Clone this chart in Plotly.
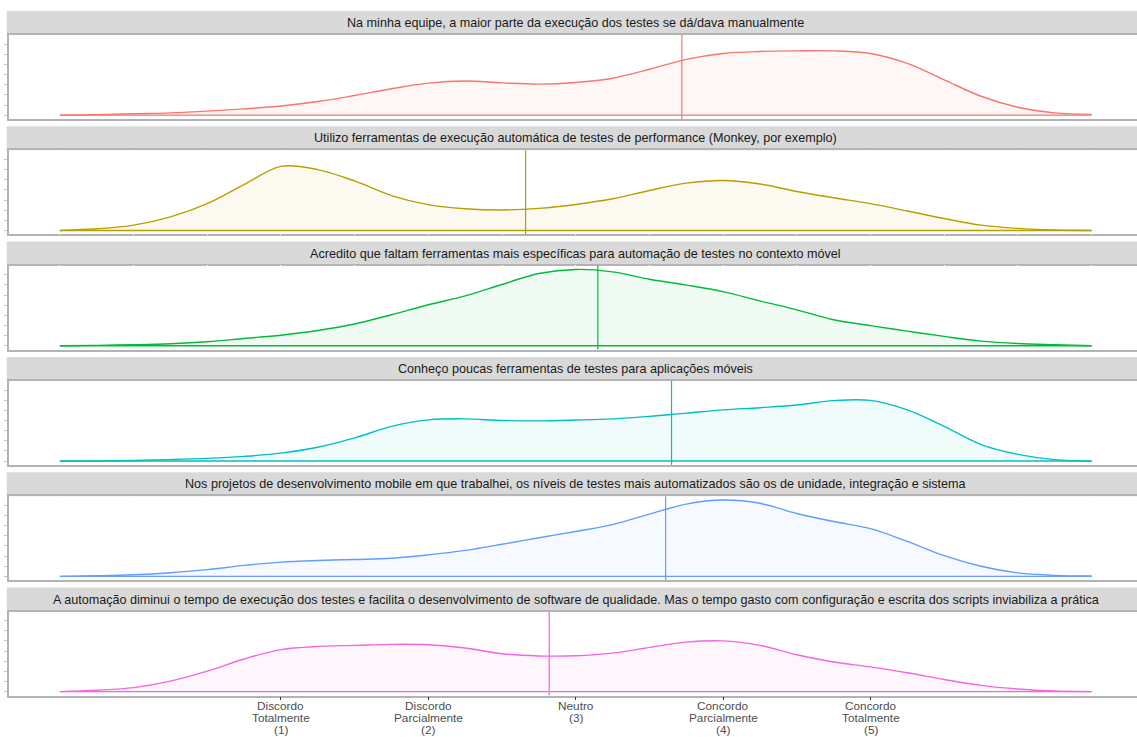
import plotly.graph_objects as go

# Statement shown in each facet strip
statements = [
    "Na minha equipe, a maior parte da execução dos testes se dá/dava manualmente",
    "Utilizo ferramentas de execução automática de testes de performance (Monkey, por exemplo)",
    "Acredito que faltam ferramentas mais específicas para automação de testes no contexto móvel",
    "Conheço poucas ferramentas de testes para aplicações móveis",
    "Nos projetos de desenvolvimento mobile em que trabalhei, os níveis de testes mais automatizados são os de unidade, integração e sistema",
    "A automação diminui o tempo de execução dos testes e facilita o desenvolvimento de software de qualidade. Mas o tempo gasto com configuração e escrita dos scripts inviabiliza a prática",
]

# Likert scale tick positions and their (multi-line) labels
likert_vals = [1, 2, 3, 4, 5]
likert_labels = [
    ["Discordo", "Totalmente", "(1)"],
    ["Discordo", "Parcialmente", "(2)"],
    ["Neutro", "(3)"],
    ["Concordo", "Parcialmente", "(4)"],
    ["Concordo", "Totalmente", "(5)"],
]

# Kernel density estimates evaluated on a common grid
grid = [-0.5, -0.25, 0.0, 0.25, 0.5, 0.75, 1.0, 1.25, 1.5, 1.75, 2.0, 2.25, 2.5, 2.75,
        3.0, 3.25, 3.5, 3.75, 4.0, 4.25, 4.5, 4.75, 5.0, 5.25, 5.5, 5.75, 6.0, 6.25, 6.5]

dens_manual = [0.000, 0.002, 0.007, 0.011, 0.020, 0.031, 0.045, 0.067, 0.097, 0.130, 0.158,
               0.168, 0.159, 0.153, 0.161, 0.182, 0.226, 0.275, 0.304, 0.314, 0.317, 0.317,
               0.304, 0.255, 0.174, 0.093, 0.039, 0.011, 0.004]
dens_performance = [0.000, 0.008, 0.026, 0.067, 0.132, 0.226, 0.316, 0.300, 0.244, 0.172, 0.127,
                    0.107, 0.101, 0.109, 0.128, 0.156, 0.197, 0.233, 0.246, 0.229, 0.192, 0.161,
                    0.132, 0.096, 0.059, 0.026, 0.010, 0.002, 0.000]
dens_faltam = [0.000, 0.002, 0.005, 0.010, 0.020, 0.036, 0.052, 0.075, 0.107, 0.153, 0.202,
               0.246, 0.302, 0.356, 0.376, 0.364, 0.328, 0.299, 0.267, 0.221, 0.177, 0.128,
               0.099, 0.072, 0.046, 0.023, 0.011, 0.005, 0.000]
dens_conheco = [0.000, 0.000, 0.003, 0.007, 0.013, 0.023, 0.039, 0.068, 0.114, 0.171, 0.203,
                0.208, 0.200, 0.198, 0.202, 0.208, 0.220, 0.236, 0.252, 0.263, 0.276, 0.298,
                0.299, 0.252, 0.171, 0.081, 0.033, 0.007, 0.000]
dens_niveis = [0.000, 0.003, 0.008, 0.018, 0.033, 0.054, 0.070, 0.078, 0.083, 0.089, 0.106,
               0.128, 0.158, 0.190, 0.221, 0.255, 0.307, 0.356, 0.376, 0.360, 0.310, 0.270,
               0.235, 0.172, 0.102, 0.050, 0.017, 0.005, 0.002]
dens_tempo = [0.000, 0.007, 0.020, 0.052, 0.101, 0.161, 0.207, 0.223, 0.228, 0.233, 0.231,
              0.215, 0.187, 0.176, 0.177, 0.190, 0.218, 0.244, 0.250, 0.228, 0.182, 0.146,
              0.122, 0.093, 0.060, 0.031, 0.013, 0.003, 0.000]

densities = [dens_manual, dens_performance, dens_faltam, dens_conheco, dens_niveis, dens_tempo]

# Mean answer for each statement
means = [3.72, 2.66, 3.15, 3.65, 3.61, 2.82]

colors = ["#F8766D", "#B79F00", "#00BA38", "#00BFC4", "#619CFF", "#F564E3"]


def rgba(hex_color, alpha):
    h = hex_color.lstrip("#")
    r, g, b = int(h[0:2], 16), int(h[2:4], 16), int(h[4:6], 16)
    return f"rgba({r},{g},{b},{alpha})"


W, H = 1137, 737
PANEL_TOP0 = 35.0
PERIOD = 115.3
PANEL_H = 84.0
STRIP_H = 24.0
LABEL_TOP = 706.0      # centre of the first tick-label line, px from top
LABEL_LEAD = 11.8      # line spacing of tick labels, px
BORDER = "#B3B3B3"
FONT = "Liberation Sans, Arial, sans-serif"

fig = go.Figure()
shapes = []
annotations = []
layout_axes = {}

for i, (dens, mean, col, title) in enumerate(zip(densities, means, colors, statements)):
    n = "" if i == 0 else str(i + 1)
    xa, ya = "x" + n, "y" + n
    top_px = PANEL_TOP0 + i * PERIOD
    bot_px = top_px + PANEL_H
    dom = [1 - bot_px / H, 1 - top_px / H]

    fig.add_trace(go.Scatter(
        x=grid, y=dens, xaxis=xa, yaxis=ya, mode="lines",
        line=dict(color=col, width=1.4, shape="spline", smoothing=1.0),
        fill="tozeroy", fillcolor=rgba(col, 0.06), hoverinfo="skip", showlegend=False,
    ))
    # bottom edge of the density polygon
    fig.add_trace(go.Scatter(
        x=[grid[0], grid[-1]], y=[0, 0], xaxis=xa, yaxis=ya, mode="lines",
        line=dict(color=col, width=1.4), hoverinfo="skip", showlegend=False,
    ))
    # mean line
    shapes.append(dict(type="line", xref=xa, yref=ya + " domain", x0=mean, x1=mean,
                       y0=0, y1=1, line=dict(color=col, width=1.2), layer="above"))
    # facet strip
    shapes.append(dict(type="rect", xref="paper", yref="paper", x0=-0.002, x1=1.0,
                       y0=1 - top_px / H, y1=1 - (top_px - STRIP_H) / H,
                       fillcolor="#D9D9D9", line=dict(width=0), layer="below"))
    annotations.append(dict(text=title, xref=xa, yref="paper", x=3.0,
                            y=1 - (top_px - STRIP_H / 2) / H, showarrow=False,
                            xanchor="center", yanchor="middle",
                            font=dict(family=FONT, size=12.6, color="#1A1A1A")))

    last = i == len(densities) - 1
    xaxis = dict(
        domain=[0, 1], anchor=ya, range=[-0.845, 6.808],
        showline=True, linecolor=BORDER, linewidth=1.6,
        showgrid=False, zeroline=False, fixedrange=True, showticklabels=False,
    )
    if last:
        xaxis.update(
            mirror=True, tickmode="array", tickvals=likert_vals,
            ticks="outside", ticklen=3, tickwidth=1, tickcolor="#333333",
            minor=dict(tickmode="linear", tick0=0, dtick=0.5, ticks="inside",
                       ticklen=2, tickwidth=1, tickcolor="white", showgrid=False),
        )
        # tick labels, one text line at a time for tight leading
        for v, lines in zip(likert_vals, likert_labels):
            for k, line in enumerate(lines):
                annotations.append(dict(
                    text=line, xref=xa, yref="paper", x=v,
                    y=1 - (LABEL_TOP + k * LABEL_LEAD) / H, showarrow=False,
                    xanchor="center", yanchor="middle",
                    font=dict(family=FONT, size=11.8, color="#4D4D4D")))
    else:
        xaxis.update(
            mirror="allticks", tickmode="linear", tick0=0, dtick=0.5,
            ticks="inside", ticklen=2, tickwidth=1, tickcolor="white",
        )
    yaxis = dict(
        domain=dom, anchor=xa, range=[-0.019, 0.395],
        showline=True, linecolor=BORDER, linewidth=1.6, mirror=False,
        ticks="outside", ticklen=3, tickwidth=1, tickcolor="#C4C4C4",
        tickmode="linear", tick0=0, dtick=0.05, showticklabels=False,
        showgrid=False, zeroline=False, fixedrange=True,
    )
    layout_axes["xaxis" + n] = xaxis
    layout_axes["yaxis" + n] = yaxis

fig.update_layout(
    width=W, height=H,
    margin=dict(l=9, r=0, t=0, b=0, autoexpand=False),
    paper_bgcolor="white", plot_bgcolor="white",
    showlegend=False, shapes=shapes, annotations=annotations,
    font=dict(family=FONT),
    **layout_axes,
)

fig.write_html("out.html", config={"displayModeBar": False})
